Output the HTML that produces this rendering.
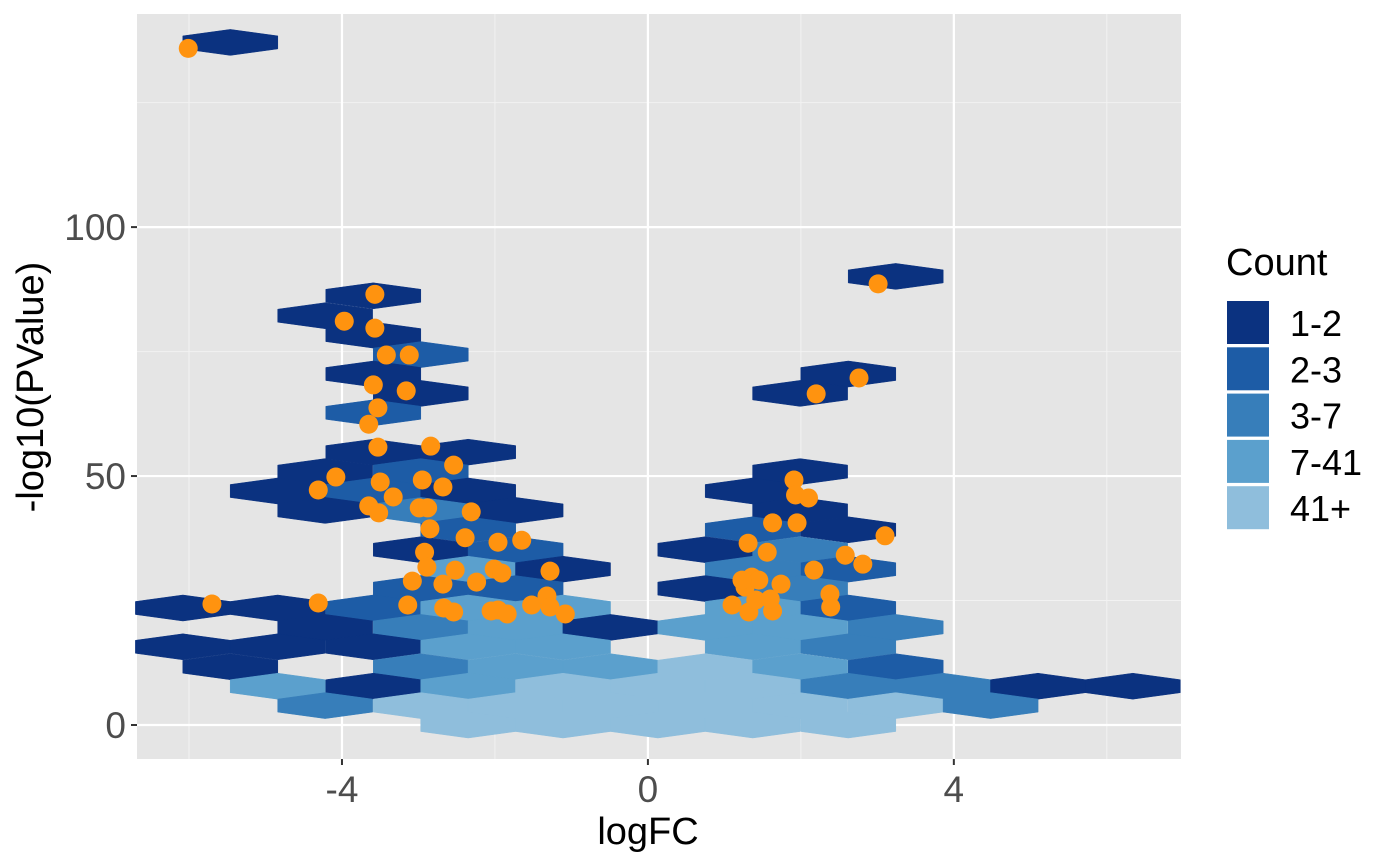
<!DOCTYPE html>
<html><head><meta charset="utf-8"><style>
body{margin:0;background:#fff;}
svg{display:block;font-family:"Liberation Sans",Arial,sans-serif;}
</style></head><body>
<svg id="chart" width="1400" height="865">
<rect x="137" y="14" width="1044" height="745" fill="#e5e5e5"/>
<g id="grid"></g><g id="hexes"></g><g id="points"></g><g id="axes"></g><g id="legend"></g>
</svg>
<script>
// hex bins (centers in data units) and count category
const hexX = [-5.46,3.24,-3.59,-4.22,-3.59,-2.97,-3.59,2.62,-2.97,1.99,-3.59,
 -3.59,-2.35,-4.22,-2.97,1.99,-4.84,-3.59,-2.35,1.37,-4.22,-2.97,-1.73,1.99,
 -2.35,1.37,2.62,-2.97,-1.73,0.75,1.99,-2.35,-1.11,1.37,2.62,-2.97,-1.73,0.75,1.99,
 -6.08,-4.84,-3.59,-2.35,-1.11,1.37,2.62,
 -4.22,-2.97,-1.73,-0.49,0.75,1.99,3.24,
 -6.08,-4.84,-3.59,-2.35,-1.11,1.37,2.62,
 -5.46,-2.97,-1.73,-0.49,0.75,1.99,3.24,
 -4.84,-3.59,-2.35,-1.11,0.13,1.37,2.62,3.86,5.10,6.34,
 -4.22,-2.97,-1.73,-0.49,0.75,1.99,3.24,4.48,
 -2.35,-1.11,0.13,1.37,2.62];
const hexY = [137.1,90.1,86.2,82.2,78.3,74.4,70.5,70.5,66.6,66.6,62.7,
 54.8,54.8,50.9,50.9,50.9,47.0,47.0,47.0,47.0,43.1,43.1,43.1,43.1,
 39.2,39.2,39.2,35.2,35.2,35.2,35.2,31.3,31.3,31.3,31.3,27.4,27.4,27.4,27.4,
 23.5,23.5,23.5,23.5,23.5,23.5,23.5,
 19.6,19.6,19.6,19.6,19.6,19.6,19.6,
 15.7,15.7,15.7,15.7,15.7,15.7,15.7,
 11.7,11.7,11.7,11.7,11.7,11.7,11.7,
 7.8,7.8,7.8,7.8,7.8,7.8,7.8,7.8,7.8,7.8,
 3.9,3.9,3.9,3.9,3.9,3.9,3.9,3.9,
 0,0,0,0,0];
const hexCat = [0,0,0,0,0,1,0,0,0,0,1,
 0,0,0,1,0,0,1,0,0,0,2,0,0,
 1,1,0,0,1,0,2,3,0,2,1,1,1,0,2,
 0,0,1,3,3,3,1,
 0,2,3,0,3,3,2,
 0,0,0,3,3,3,2,
 0,2,3,3,4,3,1,
 3,0,3,4,4,4,2,2,0,0,
 2,4,4,4,4,4,4,2,
 4,4,4,4,4];
const legendLabels = ["1-2","2-3","3-7","7-41","41+"];
const ptX = [-6.01,-5.70,-4.31,-4.31,-4.08,-3.97,-3.57,-3.57,-3.42,-3.12,-3.59,-3.16,-3.53,-3.65,-3.53,-2.84,-2.54,
 -3.50,-3.33,-2.95,-2.68,-3.65,-3.52,-2.99,-2.88,-2.31,-2.85,-2.39,-1.96,-1.65,-2.92,-2.89,-2.52,-3.08,-2.68,-2.24,
 -2.01,-1.91,-1.28,-3.14,-2.67,-2.54,-2.05,-1.96,-1.84,-1.52,-1.32,-1.28,-1.08,
 3.01,2.20,2.76,1.91,1.93,2.10,1.63,1.95,3.10,1.31,1.56,2.58,2.81,2.17,1.36,1.27,1.74,1.45,2.38,2.39,1.10,1.32,1.63,1.41,1.23,1.60];
const ptY = [135.9,24.3,24.5,47.2,49.8,81.1,86.5,79.7,74.3,74.3,68.3,67.1,63.7,60.4,55.8,56.0,52.2,
 48.8,45.8,49.2,47.8,44.0,42.6,43.6,43.6,42.8,39.4,37.6,36.7,37.1,34.7,31.7,31.1,28.9,28.3,28.7,
 31.3,30.5,30.9,24.1,23.5,22.7,22.9,23.1,22.3,24.1,25.9,23.7,22.3,
 88.6,66.5,69.7,49.2,46.2,45.6,40.6,40.6,38.0,36.5,34.7,34.1,32.3,31.1,29.7,27.7,28.3,29.1,26.3,23.7,24.1,22.7,22.9,25.1,29.1,25.3];
const xTicks = [-4,0,4], xMinor=[-6,-2,2,6];
const yTicks = [0,50,100], yMinor=[25,75,125];

const colors = ["#0b3280","#1d5ca6","#377eba","#5ba0cd","#8fbedc"];
const NS="http://www.w3.org/2000/svg";
const X0=137,X1=1181,Y0=14,Y1=759;
const xmin=-6.68,xmax=6.97,ymin=-6.83,ymax=142.8;
const sx=v=>X0+(v-xmin)/(xmax-xmin)*(X1-X0);
const sy=v=>Y1-(v-ymin)/(ymax-ymin)*(Y1-Y0);
const hw=0.621, hr=2.61;
function mk(tag,attrs,parent){const e=document.createElementNS(NS,tag);for(const k in attrs)e.setAttribute(k,attrs[k]);parent.appendChild(e);return e;}
const G=id=>document.getElementById(id);
xMinor.forEach(v=>{const l=mk('line',{x1:sx(v),x2:sx(v),y1:Y0,y2:Y1,stroke:'#f2f2f2','stroke-width':1},G('grid'));

});
yMinor.forEach(v=>{const l=mk('line',{x1:X0,x2:X1,y1:sy(v),y2:sy(v),stroke:'#f2f2f2','stroke-width':1},G('grid'));

});
xTicks.forEach(v=>{const l=mk('line',{x1:sx(v),x2:sx(v),y1:Y0,y2:Y1,stroke:'#fff','stroke-width':2.2},G('grid'));


const t=mk('line',{x1:sx(v),x2:sx(v),y1:Y1,y2:Y1+6,stroke:'#333','stroke-width':2},G('axes'));


const tx=mk('text',{x:sx(v),y:802,'text-anchor':'middle','font-size':37,fill:'#4d4d4d'},G('axes'));tx.textContent=v;

});
yTicks.forEach(v=>{const l=mk('line',{x1:X0,x2:X1,y1:sy(v),y2:sy(v),stroke:'#fff','stroke-width':2.2},G('grid'));


const t=mk('line',{x1:X0-6,x2:X0,y1:sy(v),y2:sy(v),stroke:'#333','stroke-width':2},G('axes'));


const tx=mk('text',{x:X0-11,y:sy(v)+13,'text-anchor':'end','font-size':37,fill:'#4d4d4d'},G('axes'));tx.textContent=v;

});
hexX.forEach((x,i)=>{const y=hexY[i];
const pts=[[x-hw,y-hr/2],[x-hw,y+hr/2],[x,y+hr],[x+hw,y+hr/2],[x+hw,y-hr/2],[x,y-hr]].map(p=>sx(p[0]).toFixed(1)+','+sy(p[1]).toFixed(1)).join(' ');
const c=colors[hexCat[i]];
const h=mk('polygon',{points:pts,fill:c,stroke:c,'stroke-width':0.5},G('hexes'));

});
ptX.forEach((x,i)=>{const c=mk('circle',{cx:sx(x),cy:sy(ptY[i]),r:9.5,fill:'#ff930f'},G('points'));

});
const xt=mk('text',{x:648,y:844,'text-anchor':'middle','font-size':38,fill:'#000'},G('axes'));xt.textContent='logFC';


const yt=mk('text',{x:0,y:0,'text-anchor':'middle','font-size':38,fill:'#000',transform:'translate(43,387) rotate(-90)'},G('axes'));yt.textContent='-log10(PValue)';


const lt=mk('text',{x:1226,y:275,'font-size':38,fill:'#000'},G('legend'));lt.textContent='Count';


legendLabels.forEach((s,i)=>{const y=301+i*46.3;
const r=mk('rect',{x:1227,y:y,width:42,height:43,fill:colors[i]},G('legend'));


const t=mk('text',{x:1290,y:y+35,'font-size':36,fill:'#000'},G('legend'));t.textContent=s;

});
</script>
</body></html>
